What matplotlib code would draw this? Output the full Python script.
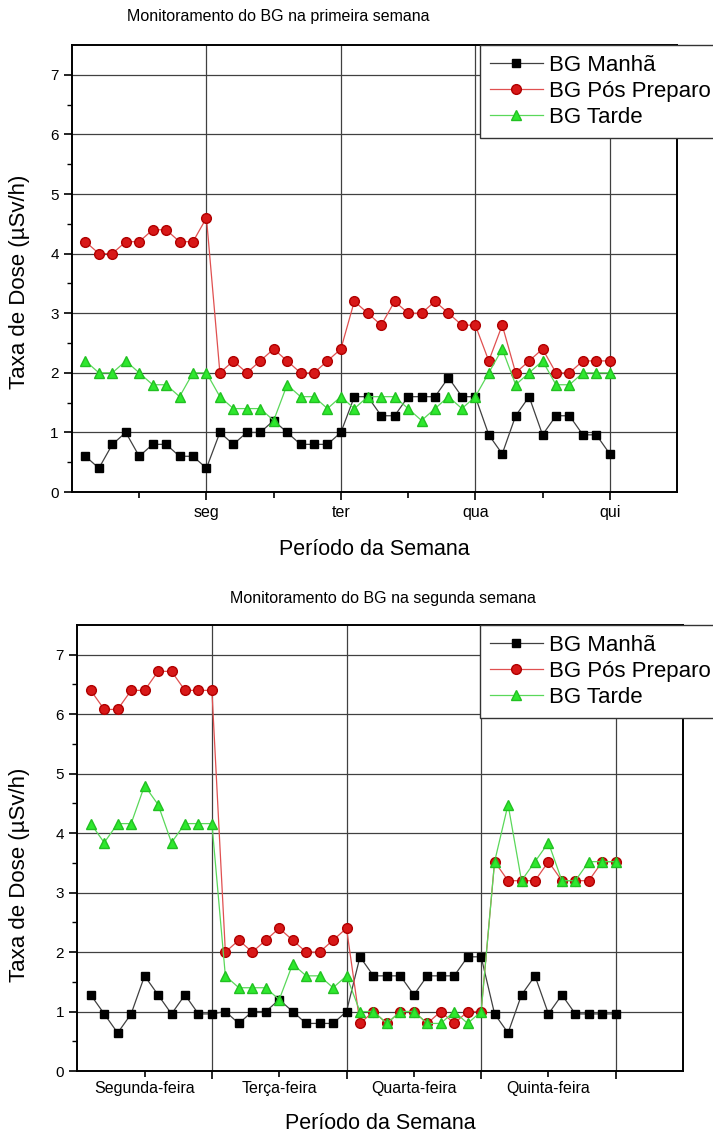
import numpy as np
import matplotlib.pyplot as plt

plt.rcParams['font.family'] = ['Liberation Sans', 'DejaVu Sans']

# positions along the week: 10 readings per day, 4 days
x = np.round(np.arange(1, 41) * 0.1, 1)

# week 1
manha1 = [0.6, 0.4, 0.8, 1.0, 0.6, 0.8, 0.8, 0.6, 0.6, 0.4,
          1.0, 0.8, 1.0, 1.0, 1.2, 1.0, 0.8, 0.8, 0.8, 1.0,
          1.6, 1.6, 1.28, 1.28, 1.6, 1.6, 1.6, 1.92, 1.6, 1.6,
          0.96, 0.64, 1.28, 1.6, 0.96, 1.28, 1.28, 0.96, 0.96, 0.64]
pos1 = [4.2, 4.0, 4.0, 4.2, 4.2, 4.4, 4.4, 4.2, 4.2, 4.6,
        2.0, 2.2, 2.0, 2.2, 2.4, 2.2, 2.0, 2.0, 2.2, 2.4,
        3.2, 3.0, 2.8, 3.2, 3.0, 3.0, 3.2, 3.0, 2.8, 2.8,
        2.2, 2.8, 2.0, 2.2, 2.4, 2.0, 2.0, 2.2, 2.2, 2.2]
tarde1 = [2.2, 2.0, 2.0, 2.2, 2.0, 1.8, 1.8, 1.6, 2.0, 2.0,
          1.6, 1.4, 1.4, 1.4, 1.2, 1.8, 1.6, 1.6, 1.4, 1.6,
          1.4, 1.6, 1.6, 1.6, 1.4, 1.2, 1.4, 1.6, 1.4, 1.6,
          2.0, 2.4, 1.8, 2.0, 2.2, 1.8, 1.8, 2.0, 2.0, 2.0]

# week 2
manha2 = [1.28, 0.96, 0.64, 0.96, 1.6, 1.28, 0.96, 1.28, 0.96, 0.96,
          1.0, 0.8, 1.0, 1.0, 1.2, 1.0, 0.8, 0.8, 0.8, 1.0,
          1.92, 1.6, 1.6, 1.6, 1.28, 1.6, 1.6, 1.6, 1.92, 1.92,
          0.96, 0.64, 1.28, 1.6, 0.96, 1.28, 0.96, 0.96, 0.96, 0.96]
pos2 = [6.4, 6.08, 6.08, 6.4, 6.4, 6.72, 6.72, 6.4, 6.4, 6.4,
        2.0, 2.2, 2.0, 2.2, 2.4, 2.2, 2.0, 2.0, 2.2, 2.4,
        0.8, 1.0, 0.8, 1.0, 1.0, 0.8, 1.0, 0.8, 1.0, 1.0,
        3.52, 3.2, 3.2, 3.2, 3.52, 3.2, 3.2, 3.2, 3.52, 3.52]
tarde2 = [4.16, 3.84, 4.16, 4.16, 4.8, 4.48, 3.84, 4.16, 4.16, 4.16,
          1.6, 1.4, 1.4, 1.4, 1.2, 1.8, 1.6, 1.6, 1.4, 1.6,
          1.0, 1.0, 0.8, 1.0, 1.0, 0.8, 0.8, 1.0, 0.8, 1.0,
          3.52, 4.48, 3.2, 3.52, 3.84, 3.2, 3.2, 3.52, 3.52, 3.52]

dias_curto = ['seg', 'ter', 'qua', 'qui']
dias_longo = ['Segunda-feira', 'Terça-feira', 'Quarta-feira', 'Quinta-feira']
nomes = ['BG Manhã', 'BG Pós Preparo', 'BG Tarde']


def draw(ax, m, p, t, leg_x):
    ax.plot(x, m, '-', color='#404040', lw=0.9, marker='s', ms=6,
            mfc='black', mec='black', label=nomes[0])
    ax.plot(x, p, '-', color='#e05050', lw=0.9, marker='o', ms=7,
            mfc='#d81818', mec='#b00000', label=nomes[1])
    ax.plot(x, t, '-', color='#5ad85a', lw=0.9, marker='^', ms=7,
            mfc='#2ee82e', mec='#22c022', label=nomes[2])
    ax.set_xlim(0, 4.5)
    ax.set_ylim(0, 7.5)
    ax.set_yticks(range(8))
    ax.set_yticks(np.arange(0.5, 7.5, 1.0), minor=True)
    ax.grid(True, which='major', color='#404040', lw=0.9)
    for s in ax.spines.values():
        s.set_linewidth(1.4)
    ax.tick_params(axis='y', which='major', direction='out', length=6, width=1.2,
                   labelsize=11)
    ax.tick_params(axis='y', which='minor', direction='out', length=3.5, width=1.0)
    ax.tick_params(axis='x', which='both', direction='out', width=1.2, labelsize=11.5)
    ax.tick_params(axis='x', which='major', length=6)
    ax.tick_params(axis='x', which='minor', length=4)
    leg = ax.legend(loc='upper left', bbox_to_anchor=(leg_x, 1.0), fontsize=16,
                    frameon=True, fancybox=False, edgecolor='#333333',
                    handlelength=2.4, handletextpad=0.25, borderpad=0.45,
                    labelspacing=0.22, borderaxespad=0)
    leg.get_frame().set_linewidth(1.0)
    leg.get_frame().set_alpha(1)
    ax.set_ylabel('Taxa de Dose (\u00b5Sv/h)', fontsize=16)
    ax.set_xlabel('Período da Semana', fontsize=15.5)


fig = plt.figure(figsize=(7.13, 11.39), dpi=100)

ax1 = fig.add_axes([0.101, 0.568, 0.8485, 0.3925])
draw(ax1, manha1, pos1, tarde1, 0.674)
ax1.set_xticks([1, 2, 3, 4])
ax1.set_xticklabels(dias_curto)
ax1.set_xticks([0.5, 1.5, 2.5, 3.5], minor=True)
ax1.xaxis.set_label_coords(0.5, -0.105)
ax1.yaxis.set_label_coords(-0.07, 0.47)
fig.text(278 / 713, 1 - 17 / 1139, 'Monitoramento do BG na primeira semana',
         ha='center', va='center', fontsize=11.5)

ax2 = fig.add_axes([0.1084, 0.0597, 0.8496, 0.3916])
draw(ax2, manha2, pos2, tarde2, 0.6645)
ax2.set_xticks([1, 2, 3, 4])
ax2.set_xticklabels([])
ax2.set_xticks([0.5, 1.5, 2.5, 3.5], minor=True)
ax2.set_xticklabels(dias_longo, minor=True)
ax2.xaxis.set_label_coords(0.5, -0.095)
ax2.yaxis.set_label_coords(-0.078, 0.44)
fig.text(383 / 713, 1 - 598 / 1139, 'Monitoramento do BG na segunda semana',
         ha='center', va='center', fontsize=11.5)

fig.savefig('out.png', dpi=100)
